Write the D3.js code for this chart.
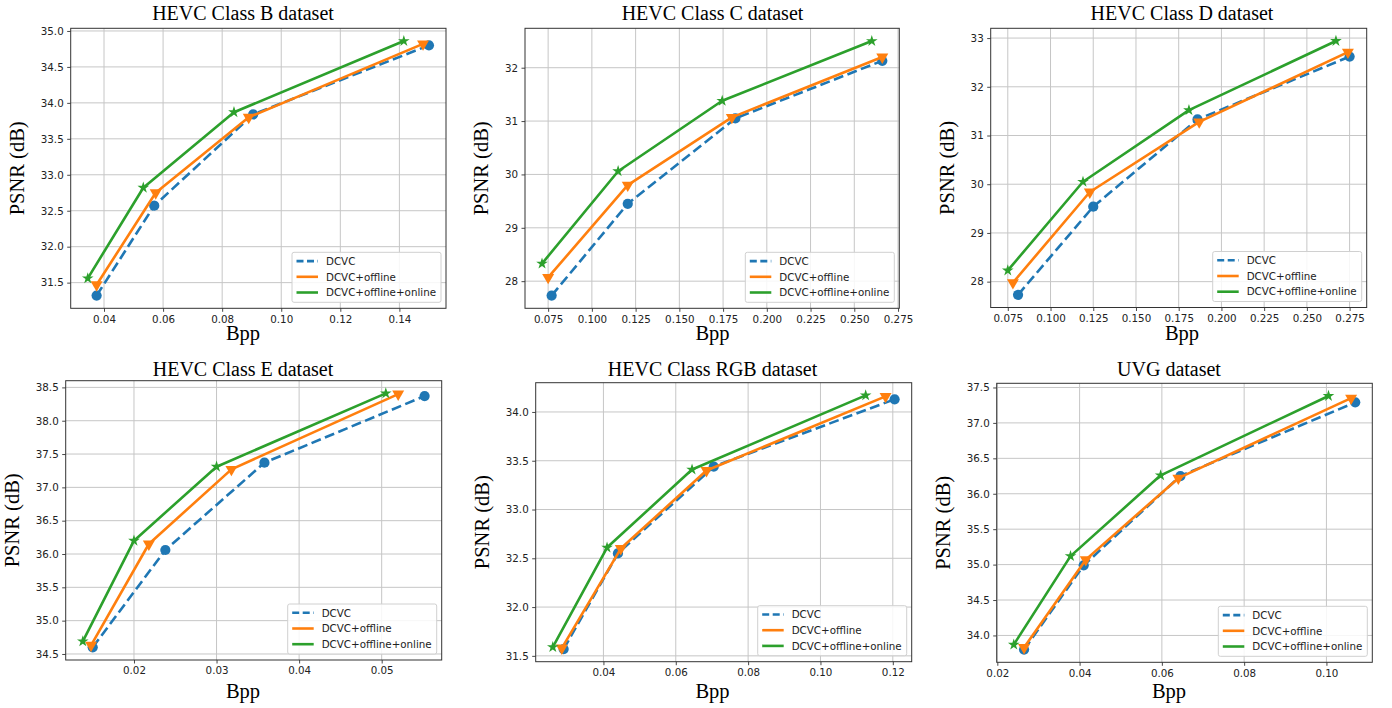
<!DOCTYPE html>
<html><head><meta charset="utf-8">
<script src="https://cdn.jsdelivr.net/npm/d3@7"></script>
<style>body{margin:0;background:#fff}svg{display:block}</style>
</head><body>
<svg id="chart" width="1392" height="708"></svg>
<script>
// ---------- DATA ----------
const panelTitles = ["HEVC Class B dataset","HEVC Class C dataset","HEVC Class D dataset","HEVC Class E dataset","HEVC Class RGB dataset","UVG dataset"];
const seriesNames = ["DCVC","DCVC+offline","DCVC+offline+online"];

// [Bpp, PSNR]
const B_dcvc    = [[0.0375,31.32],[0.0570,32.57],[0.0905,33.84],[0.1500,34.80]];
const B_offline = [[0.0375,31.47],[0.0575,32.75],[0.0890,33.80],[0.1480,34.82]];
const B_online  = [[0.0345,31.56],[0.0533,32.82],[0.0840,33.87],[0.1415,34.86]];

const C_dcvc    = [[0.0770,27.73],[0.1205,29.45],[0.1820,31.05],[0.2660,32.13]];
const C_offline = [[0.0750,28.07],[0.1205,29.80],[0.1800,31.07],[0.2660,32.20]];
const C_online  = [[0.0715,28.33],[0.1150,30.06],[0.1745,31.38],[0.2600,32.50]];

const D_dcvc    = [[0.0810,27.73],[0.1250,29.54],[0.1860,31.33],[0.2750,32.62]];
const D_offline = [[0.0780,27.98],[0.1230,29.84],[0.1870,31.28],[0.2740,32.71]];
const D_online  = [[0.0750,28.23],[0.1190,30.05],[0.1810,31.52],[0.2670,32.94]];

const E_dcvc    = [[0.0150,34.60],[0.0238,36.06],[0.0358,37.37],[0.0552,38.37]];
const E_offline = [[0.0148,34.63],[0.0218,36.15],[0.0318,37.27],[0.0520,38.40]];
const E_online  = [[0.0138,34.69],[0.0200,36.20],[0.0300,37.31],[0.0505,38.41]];

const RGB_dcvc    = [[0.0290,31.57],[0.0440,32.55],[0.0705,33.44],[0.1205,34.13]];
const RGB_offline = [[0.0285,31.58],[0.0448,32.60],[0.0685,33.40],[0.1180,34.16]];
const RGB_online  = [[0.0260,31.59],[0.0410,32.61],[0.0645,33.41],[0.1125,34.17]];

const UVG_dcvc    = [[0.0265,33.80],[0.0410,34.99],[0.0645,36.25],[0.1070,37.29]];
const UVG_offline = [[0.0265,33.83],[0.0415,35.07],[0.0640,36.22],[0.1060,37.35]];
const UVG_online  = [[0.0240,33.87],[0.0378,35.12],[0.0597,36.26],[0.1005,37.38]];

// tick labels
const B_xTicks = ["0.04","0.06","0.08","0.10","0.12","0.14"];
const B_yTicks = ["31.5","32.0","32.5","33.0","33.5","34.0","34.5","35.0"];
const C_xTicks = ["0.075","0.100","0.125","0.150","0.175","0.200","0.225","0.250","0.275"];
const C_yTicks = ["28","29","30","31","32"];
const D_xTicks = ["0.075","0.100","0.125","0.150","0.175","0.200","0.225","0.250","0.275"];
const D_yTicks = ["28","29","30","31","32","33"];
const E_xTicks = ["0.02","0.03","0.04","0.05"];
const E_yTicks = ["34.5","35.0","35.5","36.0","36.5","37.0","37.5","38.0","38.5"];
const RGB_xTicks = ["0.04","0.06","0.08","0.10","0.12"];
const RGB_yTicks = ["31.5","32.0","32.5","33.0","33.5","34.0"];
const UVG_xTicks = ["0.02","0.04","0.06","0.08","0.10"];
const UVG_yTicks = ["34.0","34.5","35.0","35.5","36.0","36.5","37.0","37.5"];

// ---------- LAYOUT / STYLE ----------
const colors = ["#1f77b4","#ff7f0e","#2ca02c"];
const boxes = [
  {l:70.7, t:28.3, r:446,    b:308.3, cx:243,    ty:19.5,  xy:340},
  {l:525,  t:28.3, r:899.3,  b:308.3, cx:712.5,  ty:19.5,  xy:340},
  {l:990.7,t:28.3, r:1366.7, b:307.5, cx:1182,   ty:19.5,  xy:340},
  {l:65.7, t:380.7,r:441.7,  b:660,   cx:243,    ty:375.5, xy:697.5},
  {l:535.7,t:382.7,r:911.7,  b:661.7, cx:712.5,  ty:375.5, xy:697.5},
  {l:996.7,t:383.3,r:1372.3, b:662.3, cx:1169,   ty:375.5, xy:697.5}
];
const panels = [
  {series:[B_dcvc,B_offline,B_online], xt:B_xTicks, yt:B_yTicks},
  {series:[C_dcvc,C_offline,C_online], xt:C_xTicks, yt:C_yTicks},
  {series:[D_dcvc,D_offline,D_online], xt:D_xTicks, yt:D_yTicks},
  {series:[E_dcvc,E_offline,E_online], xt:E_xTicks, yt:E_yTicks},
  {series:[RGB_dcvc,RGB_offline,RGB_online], xt:RGB_xTicks, yt:RGB_yTicks},
  {series:[UVG_dcvc,UVG_offline,UVG_online], xt:UVG_xTicks, yt:UVG_yTicks}
];

const svg = d3.select("#chart");
const serif = "'Liberation Serif','Times New Roman',serif";
const sans = "'DejaVu Sans',sans-serif";
const symbols = [
  d3.symbol().type(d3.symbolCircle).size(82),
  d3.symbol().type(d3.symbolTriangle).size(62),
  d3.symbol().type(d3.symbolStar).size(42)
];
const symRot = [0,180,0];

function padded(ext){const d=ext[1]-ext[0];return [ext[0]-0.05*d, ext[1]+0.05*d];}

panels.forEach((p,i)=>{
  const bx = boxes[i];
  const all = p.series.flat();
  const x = d3.scaleLinear().domain(padded(d3.extent(all,d=>d[0]))).range([bx.l,bx.r]);
  const y = d3.scaleLinear().domain(padded(d3.extent(all,d=>d[1]))).range([bx.b,bx.t]);
  const xv = p.xt.map(Number), yv = p.yt.map(Number);
  const g = svg.append("g");

  // grid
  g.append("g").selectAll("line").data(xv).join("line")
    .attr("x1",d=>x(d)).attr("x2",d=>x(d)).attr("y1",bx.t).attr("y2",bx.b)
    .attr("stroke","#c6c6c6").attr("stroke-width",1);
  g.append("g").selectAll("line").data(yv).join("line")
    .attr("y1",d=>y(d)).attr("y2",d=>y(d)).attr("x1",bx.l).attr("x2",bx.r)
    .attr("stroke","#c6c6c6").attr("stroke-width",1);

  // axes
  const xAxis = g.append("g").attr("transform",`translate(0,${bx.b})`)
    .call(d3.axisBottom(x).tickValues(xv).tickFormat((d,k)=>p.xt[k]).tickSizeOuter(0).tickSize(3.5).tickPadding(3.5));
  const yAxis = g.append("g").attr("transform",`translate(${bx.l},0)`)
    .call(d3.axisLeft(y).tickValues(yv).tickFormat((d,k)=>p.yt[k]).tickSizeOuter(0).tickSize(3.5).tickPadding(3.5));
  [xAxis,yAxis].forEach(a=>{
    a.select(".domain").remove();
    a.selectAll("text").attr("font-family",sans).attr("font-size","10.3px").attr("fill","#222");
    a.selectAll("line").attr("stroke","#333").attr("stroke-width",0.9);
  });
  let maxW = 0;
  yAxis.selectAll("text").each(function(){maxW=Math.max(maxW,this.getBBox().width);});

  // frame
  g.append("rect").attr("x",bx.l).attr("y",bx.t).attr("width",bx.r-bx.l).attr("height",bx.b-bx.t)
    .attr("fill","none").attr("stroke","#333").attr("stroke-width",1);

  // series
  const line = d3.line().x(d=>x(d[0])).y(d=>y(d[1]));
  p.series.forEach((s,k)=>{
    g.append("path").datum(s).attr("d",line).attr("fill","none")
      .attr("stroke",colors[k]).attr("stroke-width",2.6)
      .attr("stroke-dasharray",k===0?"10,4.5":null).attr("stroke-linejoin","round");
    g.append("g").selectAll("path").data(s).join("path")
      .attr("d",symbols[k])
      .attr("transform",d=>`translate(${x(d[0])},${y(d[1])}) rotate(${symRot[k]})`)
      .attr("fill",colors[k]);
  });

  // legend
  const lg = g.append("g");
  const items = lg.selectAll("g").data(seriesNames).join("g");
  const texts = items.append("text").text(d=>d).attr("font-family",sans).attr("font-size","10.3px").attr("fill","#222");
  let tw = 0; texts.each(function(){tw=Math.max(tw,this.getBBox().width);});
  const lw = 34 + tw + 5, lh = 50;
  const lx = bx.r - 5 - lw, ly = bx.b - 6 - lh;
  lg.insert("rect",":first-child").attr("x",lx).attr("y",ly).attr("width",lw).attr("height",lh)
    .attr("rx",2).attr("fill","#fff").attr("fill-opacity",0.85).attr("stroke","#d0d0d0").attr("stroke-width",1);
  items.each(function(d,k){
    const it = d3.select(this);
    const yy = ly + 8.8 + k*15.7;
    it.append("line").attr("x1",lx+4.5).attr("x2",lx+26).attr("y1",yy).attr("y2",yy)
      .attr("stroke",colors[k]).attr("stroke-width",2.6).attr("stroke-dasharray",k===0?"7,3.5":null);
    it.select("text").attr("x",lx+34).attr("y",yy+3.7);
  });

  // titles & labels
  g.append("text").attr("x",bx.cx).attr("y",bx.ty).attr("text-anchor","middle")
    .attr("font-family",serif).attr("font-size","20px").attr("fill","#000").text(panelTitles[i]);
  g.append("text").attr("x",bx.cx).attr("y",bx.xy).attr("text-anchor","middle")
    .attr("font-family",serif).attr("font-size","20.5px").attr("fill","#000").text("Bpp");
  const ylx = bx.l - 7 - maxW - 17, yly = (bx.t+bx.b)/2;
  g.append("text").attr("transform",`translate(${ylx},${yly}) rotate(-90)`).attr("text-anchor","middle")
    .attr("font-family",serif).attr("font-size","20.5px").attr("fill","#000").text("PSNR (dB)");
});
</script>
</body></html>
